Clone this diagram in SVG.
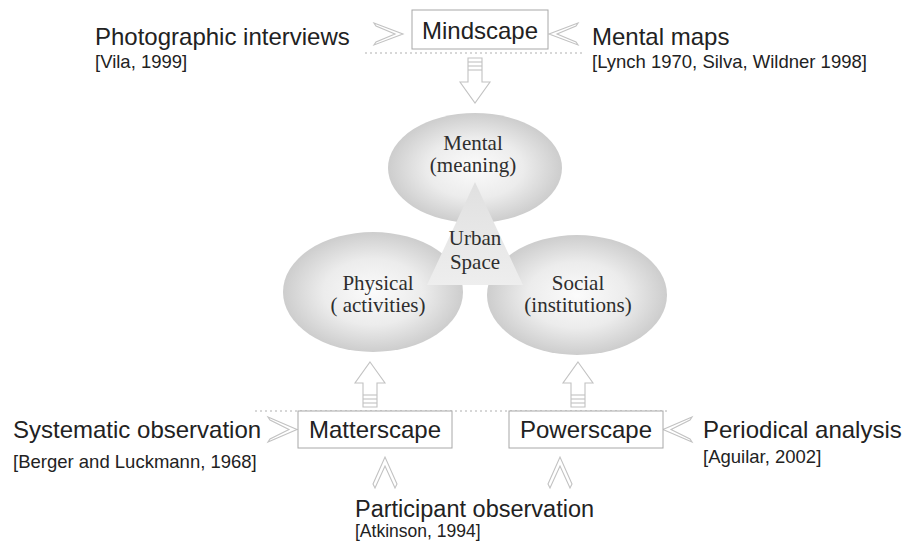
<svg xmlns="http://www.w3.org/2000/svg" width="905" height="542" viewBox="0 0 905 542">
  <defs>
    <radialGradient id="ellFill" cx="50%" cy="50%" r="50%">
      <stop offset="0%" stop-color="#fbfbfb"/>
      <stop offset="55%" stop-color="#ececec"/>
      <stop offset="100%" stop-color="#cdcdcd"/>
    </radialGradient>
    <linearGradient id="triFill" x1="0" y1="0" x2="0" y2="1">
      <stop offset="0%" stop-color="#e0e0e0"/>
      <stop offset="100%" stop-color="#eeeeee"/>
    </linearGradient>
    <style>
      .lbl { font-family: "Liberation Sans", Arial, sans-serif; font-size: 24px; fill: #222; }
      .ref { font-family: "Liberation Sans", Arial, sans-serif; font-size: 18.5px; fill: #222; }
      .serif { font-family: "Liberation Serif", "Times New Roman", serif; font-size: 21px; fill: #2e2e2e; text-anchor: middle; }
      .box { fill: #fff; stroke: #a8a8a8; stroke-width: 1; }
      .hollow { fill: #fff; stroke: #c2c2c2; stroke-width: 1.1; stroke-linejoin: miter; }
      .bar { stroke: #c2c2c2; stroke-width: 1.1; }
      .dots { stroke: #b0b0b0; stroke-width: 1.2; stroke-dasharray: 2 3; fill: none; }
      .mid { text-anchor: middle; }
    </style>
  </defs>

  <rect width="905" height="542" fill="#fff"/>

  <!-- central cluster: three ellipses and the urban space triangle -->
  <g id="mental">
    <ellipse cx="475" cy="168" rx="87" ry="55" fill="url(#ellFill)"/>
  </g>
  <g id="physical">
    <ellipse cx="373" cy="292" rx="90" ry="60" fill="url(#ellFill)"/>
  </g>
  <g id="social">
    <ellipse cx="577" cy="295" rx="90" ry="60" fill="url(#ellFill)"/>
  </g>
  <g id="urban-space">
    <polygon points="475,182 523,285 427,285" fill="url(#triFill)"/>
  </g>
  <g id="cluster-text">
    <text class="serif" x="473" y="150">Mental</text>
    <text class="serif" x="473" y="172">(meaning)</text>
    <text class="serif" x="475" y="245">Urban</text>
    <text class="serif" x="475" y="269">Space</text>
    <text class="serif" x="378" y="290">Physical</text>
    <text class="serif" x="378" y="312">( activities)</text>
    <text class="serif" x="578" y="290">Social</text>
    <text class="serif" x="578" y="312">(institutions)</text>
  </g>

  <!-- connectors: dotted rules, hollow arrows and chevrons -->
  <g id="connectors">
    <line class="dots" x1="365" y1="53" x2="583" y2="53"/>
    <line class="dots" x1="255" y1="411" x2="668" y2="411"/>

    <!-- down arrow from Mindscape -->
    <g>
      <polygon class="hollow" points="468,58 482,58 482,82 490,82 475,103 460,82 468,82"/>
      <line class="bar" x1="468" y1="62" x2="482" y2="62"/>
      <line class="bar" x1="468" y1="66" x2="482" y2="66"/>
      <line class="bar" x1="468" y1="70" x2="482" y2="70"/>
    </g>
    <!-- up arrow from Matterscape -->
    <g>
      <polygon class="hollow" points="370,362 385,383 377,383 377,407 363,407 363,383 355,383"/>
      <line class="bar" x1="363" y1="395" x2="377" y2="395"/>
      <line class="bar" x1="363" y1="399" x2="377" y2="399"/>
      <line class="bar" x1="363" y1="403" x2="377" y2="403"/>
    </g>
    <!-- up arrow from Powerscape -->
    <g>
      <polygon class="hollow" points="578,362 593,383 585,383 585,407 571,407 571,383 563,383"/>
      <line class="bar" x1="571" y1="395" x2="585" y2="395"/>
      <line class="bar" x1="571" y1="399" x2="585" y2="399"/>
      <line class="bar" x1="571" y1="403" x2="585" y2="403"/>
    </g>

    <!-- chevrons pointing at the boxes -->
    <polygon class="hollow" points="374,23 403,34 374,45 376,42 395,34 376,26"/>
    <polygon class="hollow" points="578,23 549,34 578,45 576,42 557,34 576,26"/>
    <polygon class="hollow" points="268,417 297,429.5 268,442 270,439 289,429.5 270,420"/>
    <polygon class="hollow" points="692,417 663,429.5 692,442 690,439 671,429.5 690,420"/>
    <polygon class="hollow" points="373,484 385,457 397,484 395,488 385,466 375,488"/>
    <polygon class="hollow" points="548,484 560,457 572,484 570,488 560,466 550,488"/>
  </g>

  <!-- scape boxes -->
  <g id="mindscape">
    <rect class="box" x="412" y="10" width="136" height="39"/>
    <text class="lbl mid" x="480" y="39">Mindscape</text>
  </g>
  <g id="matterscape">
    <rect class="box" x="298" y="411" width="154" height="37"/>
    <text class="lbl mid" x="375" y="438">Matterscape</text>
  </g>
  <g id="powerscape">
    <rect class="box" x="509" y="411" width="154" height="37"/>
    <text class="lbl mid" x="586" y="438">Powerscape</text>
  </g>

  <!-- methods and references -->
  <g id="photographic-interviews">
    <text class="lbl" x="95" y="45">Photographic interviews</text>
    <text class="ref" x="95" y="68">[Vila, 1999]</text>
  </g>
  <g id="mental-maps">
    <text class="lbl" x="592" y="45">Mental maps</text>
    <text class="ref" x="592" y="68">[Lynch 1970, Silva, Wildner 1998]</text>
  </g>
  <g id="systematic-observation">
    <text class="lbl" x="13" y="438">Systematic observation</text>
    <text class="ref" x="13" y="468">[Berger and Luckmann, 1968]</text>
  </g>
  <g id="periodical-analysis">
    <text class="lbl" x="703" y="438">Periodical analysis</text>
    <text class="ref" x="703" y="463">[Aguilar, 2002]</text>
  </g>
  <g id="participant-observation">
    <text class="lbl" x="355" y="517" style="font-size:23.5px">Participant observation</text>
    <text class="ref" x="355" y="537" style="font-size:17.5px">[Atkinson, 1994]</text>
  </g>
</svg>
